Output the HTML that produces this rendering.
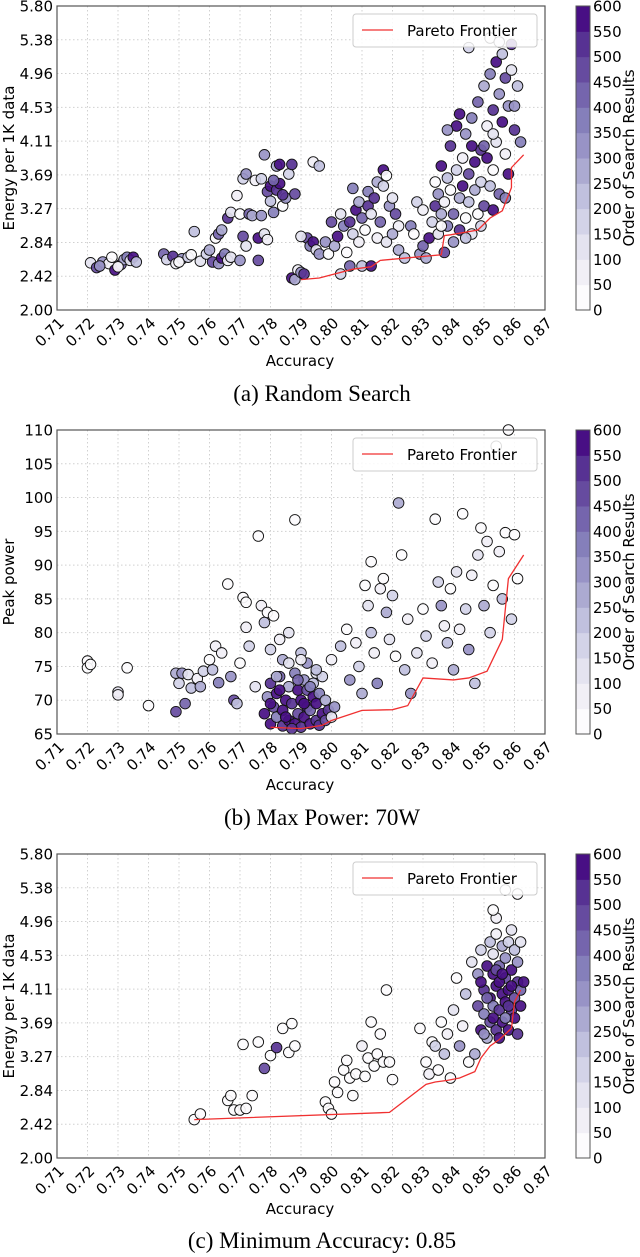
<!DOCTYPE html>
<html><head><meta charset="utf-8">
<style>
body{margin:0;background:#fff;width:640px;height:1257px;overflow:hidden}
svg{display:block}
text{font-family:"DejaVu Sans","Liberation Sans",sans-serif;fill:#000}
.cap{font-family:"Liberation Serif",serif;font-size:23px}
</style></head>
<body>
<svg id="fig" width="640" height="1257" viewBox="0 0 640 1257" xmlns="http://www.w3.org/2000/svg"></svg>
<script>
const xTicks=[0.71,0.72,0.73,0.74,0.75,0.76,0.77,0.78,0.79,0.80,0.81,0.82,0.83,0.84,0.85,0.86,0.87];
const energyTicks=['2.00','2.42','2.84','3.27','3.69','4.11','4.53','4.96','5.38','5.80'];
const powerTicks=['65','70','75','80','85','90','95','100','105','110'];
const cbTicks=[0,50,100,150,200,250,300,350,400,450,500,550,600];
const cbColors=['#fcfbfd','#f1eff6','#e4e3f0','#d3d3e8','#c0c0de','#acaad1','#9893c6','#857fba','#7565ad','#664b9f','#573293','#480f84'];

const frontierA=[[0.790,2.38],[0.796,2.40],[0.807,2.51],[0.813,2.54],[0.816,2.62],[0.836,2.69],[0.837,2.93],[0.839,2.94],[0.848,3.00],[0.852,3.15],[0.856,3.24],[0.859,3.53],[0.859,3.78],[0.863,3.94]];
const frontierB=[[0.780,66.0],[0.790,65.8],[0.797,66.3],[0.800,67.0],[0.810,68.5],[0.820,68.6],[0.825,69.2],[0.830,73.3],[0.840,73.0],[0.845,73.3],[0.851,74.3],[0.856,79.0],[0.858,88.0],[0.863,91.5]];
const frontierC=[[0.755,2.48],[0.819,2.57],[0.831,2.92],[0.834,2.95],[0.838,2.97],[0.842,3.0],[0.847,3.08],[0.849,3.25],[0.852,3.40],[0.855,3.48],[0.857,3.55],[0.859,3.62],[0.860,3.95],[0.862,4.10]];

const pointsA=[
[0.721,2.59,120],[0.723,2.53,480],[0.725,2.60,300],[0.727,2.58,60],[0.728,2.66,20],[0.729,2.50,560],[0.731,2.57,400],[0.732,2.63,250],[0.733,2.66,350],[0.734,2.62,120],[0.735,2.66,580],[0.736,2.60,200],[0.724,2.55,330],[0.730,2.54,40],
[0.745,2.70,420],[0.746,2.63,180],[0.748,2.67,520],[0.749,2.58,90],[0.751,2.64,330],[0.750,2.60,30],[0.753,2.66,150],[0.754,2.69,10],[0.755,2.98,220],[0.757,2.61,110],[0.759,2.70,190],[0.760,2.75,260],[0.761,2.60,470],[0.763,2.58,300],[0.764,2.65,580],[0.765,2.70,360],[0.766,2.62,80],[0.767,2.66,140],
[0.762,2.90,20],[0.763,2.95,420],[0.764,3.0,280],[0.766,3.15,520],[0.767,3.22,120],[0.769,3.43,60],[0.770,3.20,30],[0.771,3.64,190],[0.772,3.70,340],[0.771,2.92,480],[0.772,2.80,100],[0.773,3.20,400],[0.774,3.18,260],[0.775,3.62,50],[0.776,2.90,560],[0.777,3.18,320],[0.777,3.64,150],[0.778,3.94,300],[0.779,3.48,450],[0.780,3.36,220],[0.780,3.55,580],[0.781,3.22,380],[0.782,3.50,500],[0.782,3.80,270],[0.783,3.58,560],[0.784,3.30,40],[0.785,3.40,330],[0.786,3.70,180],[0.787,3.82,540],[0.788,3.45,460],[0.776,2.62,450],[0.770,2.62,300],[0.778,2.95,130],[0.779,2.88,70],[0.781,3.62,420],[0.783,3.82,580],[0.784,3.44,520],
[0.787,2.40,580],[0.788,2.38,250],[0.789,2.50,60],[0.790,2.47,300],[0.791,2.45,520],[0.792,2.90,480],[0.793,2.80,380],[0.794,2.85,560],[0.795,2.75,120],[0.796,2.70,320],[0.790,2.92,140],[0.794,3.85,90],[0.796,3.80,200],
[0.798,2.85,330],[0.799,2.70,20],[0.800,3.10,480],[0.801,2.80,260],[0.802,2.92,560],[0.803,3.20,110],[0.804,3.05,380],[0.805,2.72,30],[0.806,3.10,520],[0.806,2.55,430],[0.807,2.95,170],[0.808,3.25,580],[0.809,3.35,290],[0.809,2.85,60],[0.810,3.15,440],[0.810,2.55,200],[0.811,3.00,10],[0.812,3.30,540],[0.812,3.48,350],[0.813,2.55,580],[0.813,3.20,130],[0.814,3.40,500],[0.815,3.60,250],[0.815,2.90,80],[0.816,3.10,410],[0.817,3.55,190],[0.817,3.75,560],[0.818,3.68,30],[0.819,3.30,320],[0.820,3.40,120],[0.821,3.20,470],[0.822,2.75,280],[0.822,3.05,50],[0.824,2.65,230],[0.826,3.05,380],[0.827,2.95,20],[0.828,3.35,160],[0.829,2.70,310],[0.830,3.25,70],[0.803,2.45,150],[0.807,3.52,360],[0.818,2.85,100],[0.820,2.95,260],
[0.830,2.80,420],[0.831,2.65,260],[0.832,2.90,560],[0.833,3.10,180],[0.834,3.30,500],[0.834,3.60,30],[0.835,3.45,340],[0.835,2.95,110],[0.836,3.80,580],[0.836,3.20,250],[0.837,2.72,460],[0.837,3.35,60],[0.838,3.05,380],[0.838,3.65,210],[0.839,4.05,540],[0.839,3.50,20],[0.840,3.20,440],[0.840,2.85,300],[0.841,3.75,150],[0.841,4.30,560],[0.842,3.40,270],[0.842,3.00,520],[0.843,3.90,90],[0.843,3.55,580],[0.844,4.20,320],[0.844,3.15,40],[0.845,3.70,480],[0.845,3.35,200],[0.846,4.40,360],[0.846,2.95,120],[0.847,3.85,580],[0.847,3.50,260],[0.848,4.60,420],[0.848,3.20,10],[0.849,4.00,540],[0.849,3.60,170],[0.850,4.80,280],[0.850,3.30,480],[0.851,4.30,60],[0.851,3.90,580],[0.852,4.95,350],[0.852,3.55,220],[0.853,4.50,520],[0.853,3.75,30],[0.854,5.10,580],[0.854,4.10,140],[0.855,4.70,300],[0.855,3.45,440],[0.856,5.20,200],[0.856,4.35,560],[0.857,3.95,80],[0.857,4.90,460],[0.858,4.55,330],[0.858,3.70,560],[0.859,5.00,100],[0.860,4.25,500],[0.861,4.80,240],[0.862,4.10,380],[0.852,5.40,40],[0.855,5.35,60],[0.859,5.32,520],[0.845,5.28,180],[0.838,4.25,300],[0.842,4.45,580],[0.849,3.05,150],[0.853,3.25,580],[0.857,3.40,380],[0.844,2.90,220],[0.836,3.05,20],[0.850,4.05,420],[0.846,4.05,560],[0.853,4.20,120],[0.860,4.55,300]
];

const pointsB=[
[0.720,75.8,40],[0.720,74.8,20],[0.721,75.3,10],[0.730,71.2,120],[0.730,70.8,60],[0.733,74.8,30],[0.740,69.2,20],[0.749,74.0,250],[0.749,68.3,480],[0.750,72.5,150],[0.751,74.0,300],[0.752,69.5,400],[0.753,73.8,100],[0.754,71.8,200],[0.756,73.2,50],[0.757,72.0,280],[0.758,74.3,150],[0.760,76.0,30],[0.761,74.5,200],[0.762,78.0,90],[0.763,72.6,350],[0.764,77.0,60],[0.766,87.2,20],[0.767,73.5,300],[0.768,70.0,450],[0.769,69.5,200],[0.770,75.5,40],[0.771,85.2,30],[0.772,80.8,80],[0.772,84.5,10],[0.773,78.0,150],[0.775,72.0,100],[0.776,94.3,20],[0.777,84.0,50],[0.778,81.5,200],[0.779,83.0,20],[0.780,77.5,150],[0.781,82.5,30],[0.783,79.0,60],[0.784,76.0,250],[0.786,80.0,100],[0.788,96.7,10],[0.790,77.0,200],[0.792,75.5,300],[0.795,74.0,120],[0.800,76.0,50],[0.803,78.0,200],[0.805,80.5,40],[0.806,73.0,300],[0.808,78.5,90],[0.809,75.0,150],[0.810,71.0,250],[0.811,87.0,20],[0.812,84.0,120],[0.813,90.5,40],[0.813,80.0,200],[0.814,77.0,60],[0.815,72.5,350],[0.816,86.5,80],[0.817,88.0,30],[0.818,83.0,250],[0.819,79.0,100],[0.820,85.5,150],[0.821,76.5,40],[0.822,99.2,250],[0.823,91.5,20],[0.824,74.5,200],[0.825,82.0,60],[0.826,71.0,300],[0.828,77.0,100],[0.830,83.5,40],[0.831,79.5,180],[0.833,75.5,80],[0.834,96.8,10],[0.835,87.5,150],[0.836,84.0,300],[0.837,81.0,50],[0.838,78.5,200],[0.839,86.5,30],[0.840,74.5,250],[0.841,89.0,100],[0.842,80.5,60],[0.843,97.6,20],[0.844,83.5,150],[0.845,77.5,300],[0.846,88.5,50],[0.847,72.5,200],[0.848,91.5,100],[0.849,95.5,20],[0.850,84.0,250],[0.851,93.5,60],[0.852,80.0,150],[0.853,87.0,40],[0.854,107.6,10],[0.855,92.0,80],[0.856,85.0,200],[0.857,94.8,20],[0.858,110,10],[0.859,82.0,150],[0.860,94.5,40],[0.861,88.0,30],
[0.778,68,560],[0.779,70.5,300],[0.780,72.5,520],[0.780,66.5,580],[0.781,69,480],[0.782,71,580],[0.782,67.5,350],[0.783,73.5,420],[0.784,68.5,580],[0.784,66.2,520],[0.785,70,560],[0.786,72,250],[0.786,67,580],[0.787,69.5,500],[0.788,74,380],[0.788,66.5,560],[0.789,71.5,580],[0.789,68,450],[0.790,70,580],[0.790,66,520],[0.791,73,300],[0.791,67.5,580],[0.792,69,560],[0.792,71.5,480],[0.793,66.5,580],[0.793,68.5,400],[0.794,70.5,580],[0.794,72.5,200],[0.795,67,540],[0.795,69.5,580],[0.796,66.3,500],[0.796,71,350],[0.797,68,580],[0.797,73.5,150],[0.798,67,450],[0.798,70,250],[0.799,68.5,520],[0.800,67.5,100],[0.801,69,300],[0.780,69.5,580],[0.783,71.5,560],[0.785,67.5,580],[0.787,65.8,540],[0.789,73,420],[0.791,69.5,580],[0.793,72,350],[0.795,74.5,200],[0.786,75.5,100],[0.790,76,60],[0.782,73.5,250]
];

const pointsC=[
[0.755,2.48,20],[0.757,2.55,10],[0.766,2.72,30],[0.767,2.78,10],[0.768,2.60,20],[0.770,2.60,10],[0.771,3.42,30],[0.772,2.62,40],[0.774,2.78,10],[0.776,3.45,20],[0.778,3.12,450],[0.780,3.28,30],[0.782,3.38,500],[0.784,3.62,20],[0.786,3.32,10],[0.787,3.68,30],[0.788,3.40,20],[0.798,2.70,10],[0.799,2.62,30],[0.800,2.55,20],[0.801,2.95,10],[0.802,2.82,40],[0.804,3.10,20],[0.805,3.22,10],[0.806,3.0,30],[0.807,2.78,20],[0.808,3.05,10],[0.810,3.40,60],[0.811,3.02,20],[0.812,3.25,30],[0.813,3.70,10],[0.814,3.15,20],[0.815,3.30,40],[0.816,3.55,10],[0.817,3.20,30],[0.818,4.10,10],[0.819,3.20,20],[0.820,2.98,10],[0.829,3.62,30],[0.831,3.20,20],[0.832,3.05,60],[0.833,3.45,10],[0.834,3.40,150],[0.835,3.10,30],[0.836,3.70,20],[0.837,3.30,200],[0.838,3.55,50],[0.839,3.00,20],[0.840,3.85,100],[0.841,4.25,30],[0.842,3.40,300],[0.843,3.65,60],[0.844,4.05,200],[0.845,3.20,40],[0.846,4.45,100],[0.847,3.30,250],
[0.848,3.9,450],[0.848,4.3,300],[0.849,3.6,560],[0.849,4.6,150],[0.850,4.1,520],[0.850,3.8,380],[0.851,4.4,580],[0.851,3.5,250],[0.852,4.7,200],[0.852,4.0,560],[0.852,3.7,480],[0.853,4.3,580],[0.853,3.9,350],[0.853,4.55,100],[0.854,3.6,540],[0.854,4.15,580],[0.854,4.8,60],[0.855,3.85,500],[0.855,4.4,420],[0.855,3.5,580],[0.856,4.05,560],[0.856,4.65,250],[0.856,3.7,580],[0.857,4.25,480],[0.857,3.95,580],[0.857,4.5,320],[0.858,3.6,560],[0.858,4.1,580],[0.858,4.7,150],[0.859,3.85,520],[0.859,4.35,580],[0.860,4.0,450],[0.860,4.6,200],[0.860,3.75,580],[0.861,4.2,540],[0.861,3.55,500],[0.861,4.45,300],[0.862,3.9,580],[0.862,4.1,400],[0.862,4.7,100],[0.849,4.2,580],[0.851,4.0,420],[0.853,3.75,580],[0.855,4.2,560],[0.857,3.75,380],[0.859,4.15,580],[0.854,4.35,480],[0.856,4.3,580],[0.858,3.9,540],[0.850,3.55,300],[0.854,5.0,60],[0.857,5.35,40],[0.859,4.85,100],[0.861,5.3,20],[0.853,5.1,30],[0.863,4.2,580]
];

const NS='http://www.w3.org/2000/svg';
const svg=document.getElementById('fig');
function el(tag,attrs,parent,txt){const e=document.createElementNS(NS,tag);for(const k in attrs)e.setAttribute(k,attrs[k]);if(txt!==undefined)e.textContent=txt;(parent||svg).appendChild(e);return e;}
function colorOf(o){return cbColors[Math.min(11,Math.floor(o/50))];}

function drawPanel(p){
  const L=57,R=545,T=p.top,B=p.top+304;
  const g=el('g',{});
  
  
  const xs=v=>L+(v-0.71)/0.16*(R-L);
  const ys=v=>B-(v-p.ymin)/(p.ymax-p.ymin)*(B-T);
  xTicks.forEach(t=>{const l=el('line',{x1:xs(t),x2:xs(t),y1:T,y2:B,stroke:'#d0d0d0','stroke-dasharray':'1.5,2.5','stroke-width':1},g);
    });
  p.yTicks.forEach((lab,i)=>{const v=p.ymin+i*(p.ymax-p.ymin)/(p.yTicks.length-1);
    const l=el('line',{x1:L,x2:R,y1:ys(v),y2:ys(v),stroke:'#d0d0d0','stroke-dasharray':'1.5,2.5','stroke-width':1},g);
    
    const t=el('text',{x:L-4,y:ys(v)+5.5,'text-anchor':'end','font-size':15},g,lab);
    });
  xTicks.forEach(v=>{const x=xs(v),y=B+14;
    const t=el('text',{x:x+8,y:y,'text-anchor':'end','font-size':15,transform:`rotate(-45 ${x+8} ${y})`},g,v.toFixed(2));
    });
  p.pts.forEach(d=>{const c=el('circle',{cx:xs(d[0]),cy:ys(d[1]),r:5.3,fill:colorOf(d[2]),'fill-opacity':0.92,stroke:'#111','stroke-width':0.9},g);
    });
  const pl=el('polyline',{points:p.front.map(d=>xs(d[0])+','+ys(d[1])).join(' '),fill:'none',stroke:'#f03030','stroke-width':1.3},g);
  
  const fr=el('rect',{x:L,y:T,width:R-L,height:B-T,fill:'none',stroke:'#555','stroke-width':1.2},g);
  
  const lg=el('g',{},g);
  
  el('rect',{x:353,y:T+8,width:184,height:33,rx:3,fill:'#fff','fill-opacity':0.85,stroke:'#ccc'},lg);
  el('line',{x1:362,x2:393,y1:T+24,y2:T+24,stroke:'#f03030','stroke-width':1.3},lg);
  const lt=el('text',{x:407,y:T+30,'font-size':15},lg,'Pareto Frontier');
  
  const xt=el('text',{x:300,y:B+56,'text-anchor':'middle','font-size':15},g,'Accuracy');
  
  const yt=el('text',{x:14,y:(T+B)/2,'text-anchor':'middle','font-size':15,transform:`rotate(-90 14 ${(T+B)/2})`},g,p.ylabel);
  
  const cbL=576,cbW=14,h=(B-T)/12;
  const cb=el('g',{},g);
  
  cbColors.forEach((c,i)=>el('rect',{x:cbL,y:B-(i+1)*h,width:cbW,height:h+0.5,fill:c},cb));
  el('rect',{x:cbL,y:T,width:cbW,height:B-T,fill:'none',stroke:'#555','stroke-width':1},cb);
  cbTicks.forEach((v,i)=>{const y=B-i*h;
    const t=el('text',{x:cbL+cbW+3,y:y+5.5,'font-size':15},cb,String(v));
    });
  const ct=el('text',{x:634,y:(T+B)/2,'text-anchor':'middle','font-size':15,transform:`rotate(-90 634 ${(T+B)/2})`},cb,'Order of Search Results');
  
  const cap=el('text',{x:322,y:p.capY,'text-anchor':'middle',class:'cap'},g,p.caption);
  
}
drawPanel({name:'random-search',top:6,ymin:2.0,ymax:5.8,yTicks:energyTicks,pts:pointsA,front:frontierA,ylabel:'Energy per 1K data',caption:'(a)  Random Search',capY:401});
drawPanel({name:'max-power',top:430,ymin:65,ymax:110,yTicks:powerTicks,pts:pointsB,front:frontierB,ylabel:'Peak power',caption:'(b)  Max Power: 70W',capY:825});
drawPanel({name:'min-accuracy',top:854,ymin:2.0,ymax:5.8,yTicks:energyTicks,pts:pointsC,front:frontierC,ylabel:'Energy per 1K data',caption:'(c)  Minimum Accuracy: 0.85',capY:1248});
</script>
</body></html>
